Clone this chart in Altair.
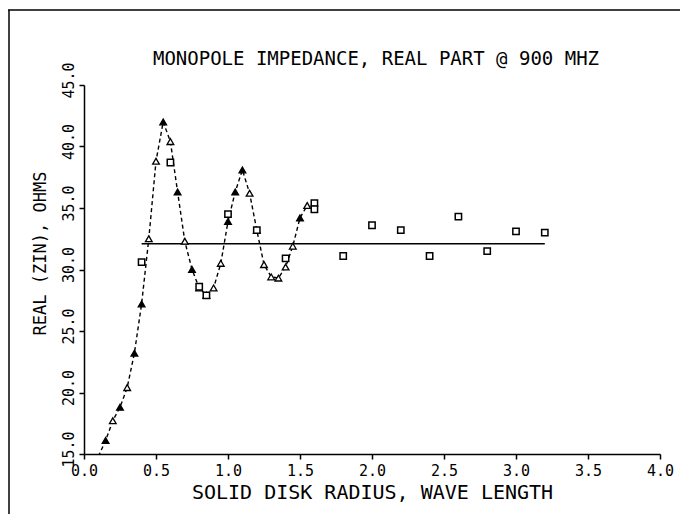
import altair as alt
import pandas as pd

# Dashed curve with triangle markers (x in wave lengths, Re(Zin) in ohms)
tri_x = [0.10, 0.15, 0.20, 0.25, 0.30, 0.35, 0.40, 0.45, 0.50, 0.55, 0.60, 0.65,
         0.70, 0.75, 0.80, 0.85, 0.90, 0.95, 1.00, 1.05, 1.10, 1.15, 1.20, 1.25,
         1.30, 1.35, 1.40, 1.45, 1.50, 1.55]
tri_y = [14.8, 16.1, 17.7, 18.8, 20.4, 23.2, 27.2, 32.5, 38.8, 42.0, 40.4, 36.3,
         32.3, 30.0, 28.5, 27.9, 28.5, 30.5, 33.9, 36.3, 38.1, 36.2, 33.2, 30.4,
         29.4, 29.3, 30.2, 31.9, 34.2, 35.2]
tri_fill = ["filled", "filled", "open", "filled", "open", "filled", "filled", "open",
            "open", "filled", "open", "filled", "open", "filled", "open", "open",
            "open", "open", "filled", "filled", "filled", "open", "filled", "open",
            "open", "open", "open", "open", "filled", "open"]

# Square markers
sq_x = [0.40, 0.60, 0.80, 0.85, 1.00, 1.20, 1.40, 1.60, 1.60, 1.80, 2.00, 2.20,
        2.40, 2.60, 2.80, 3.00, 3.20]
sq_y = [30.6, 38.7, 28.6, 27.9, 34.5, 33.2, 30.9, 35.4, 34.9, 31.1, 33.6, 33.2,
        31.1, 34.3, 31.5, 33.1, 33.0]

# Horizontal reference level
ref_x = [0.40, 3.20]
ref_y = [32.1, 32.1]

x_ticks = [0.0, 0.5, 1.0, 1.5, 2.0, 2.5, 3.0, 3.5, 4.0]
y_ticks = [15.0, 20.0, 25.0, 30.0, 35.0, 40.0, 45.0]

title_text = ["MONOPOLE IMPEDANCE, REAL PART @ 900 MHZ"]

FONT = "DejaVu Sans Mono"

tri_df = pd.DataFrame({"x": tri_x, "y": tri_y, "f": tri_fill})
sq_df = pd.DataFrame({"x": sq_x, "y": sq_y})
ref_df = pd.DataFrame({"x": ref_x, "y": ref_y})
title_df = pd.DataFrame({"t": title_text})

xs = alt.Scale(domain=[0, 4], nice=False)
ys = alt.Scale(domain=[15, 45], nice=False)

xax = alt.Axis(values=x_ticks, format=".1f", title="SOLID DISK RADIUS, WAVE LENGTH",
               grid=False, tickSize=5, labelPadding=4, titlePadding=4,
               titleFontSize=20, labelFlush=False, labelOverlap=False)
yax = alt.Axis(values=y_ticks, format=".1f", title="REAL (ZIN), OHMS",
               grid=False, tickSize=5, labelAngle=270, labelAlign="center",
               labelBaseline="bottom", labelPadding=3, labelOffset=-5,
               labelFlush=False, labelOverlap=False, titlePadding=12,
               titleFontSize=17, titleY=168)

line = alt.Chart(tri_df).mark_line(
    color="black", strokeWidth=1.4, strokeDash=[4, 3], clip=True
).encode(
    x=alt.X("x:Q", scale=xs, axis=xax),
    y=alt.Y("y:Q", scale=ys, axis=yax),
    order="x:Q",
)

tris = alt.Chart(tri_df).transform_filter("datum.y >= 15").mark_point(
    shape="triangle-up", size=45, strokeWidth=1.3, opacity=1, filled=False
).encode(
    x=alt.X("x:Q", scale=xs),
    y=alt.Y("y:Q", scale=ys),
    fill=alt.Fill("f:N", scale=alt.Scale(domain=["filled", "open"], range=["black", "white"]), legend=None),
    stroke=alt.value("black"),
)

squares = alt.Chart(sq_df).mark_point(
    shape="square", size=40, strokeWidth=1.5, opacity=1, fill="white", stroke="black"
).encode(
    x=alt.X("x:Q", scale=xs),
    y=alt.Y("y:Q", scale=ys),
)

ref = alt.Chart(ref_df).mark_line(color="black", strokeWidth=1.5).encode(
    x=alt.X("x:Q", scale=xs),
    y=alt.Y("y:Q", scale=ys),
)

title = alt.Chart(title_df).mark_text(
    font=FONT, fontSize=19, color="black", align="center", baseline="alphabetic", clip=False
).encode(
    text="t:N", x=alt.value(292), y=alt.value(-20)
)

frame_df = pd.DataFrame({"k": [0]})
top_border = alt.Chart(frame_df).mark_rule(color="black", strokeWidth=1.5, clip=False).encode(
    x=alt.value(-76), x2=alt.value(600), y=alt.value(-75)
)
left_border = alt.Chart(frame_df).mark_rule(color="black", strokeWidth=1.5, clip=False).encode(
    x=alt.value(-75), y=alt.value(-75), y2=alt.value(432)
)

chart = alt.layer(line, ref, tris, squares, title, top_border, left_border).properties(
    width=576,
    height=369,
    background="white",
    autosize=alt.AutoSizeParams(type="none"),
    padding={"left": 76, "top": 77, "right": 20, "bottom": 60},
).configure_view(
    stroke=None
).configure_axis(
    domainColor="black", domainWidth=1.5, tickColor="black", tickWidth=1.5,
    labelFont=FONT, labelFontSize=15, labelColor="black",
    titleFont=FONT, titleFontSize=18, titleFontWeight="normal", titleColor="black",
)

chart.save("out.html", embed_options={"renderer": "svg", "actions": False})
